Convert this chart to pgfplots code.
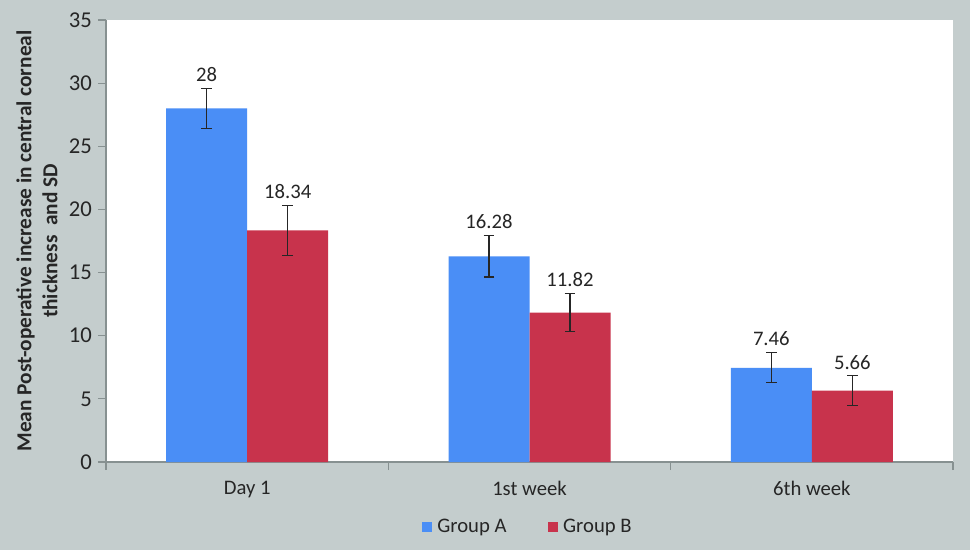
\documentclass[border=0pt]{standalone}
\usepackage{pgfplots}
\pgfplotsset{compat=1.18}
\usepackage{fontspec}
\setmainfont{Carlito}

\definecolor{bgGray}{RGB}{196,205,205}
\definecolor{barBlue}{RGB}{74,142,246}
\definecolor{barRed}{RGB}{200,51,76}
\definecolor{axGray}{RGB}{135,145,145}
\definecolor{txt}{RGB}{38,38,38}

\newcommand{\chartfont}{\fontsize{15.5}{18}\selectfont\color{txt}}

\begin{document}
\begin{tikzpicture}
% background of the whole picture (1px = 0.75pt)
\fill[bgGray] (0,0) rectangle (727.5pt,412.5pt);

\begin{axis}[
    at={(79.5pt,66pt)}, anchor=south west,
    scale only axis,
    width=635.25pt, height=331.5pt,
    axis background/.style={fill=white},
    axis x line*=bottom, axis y line*=left,
    axis line style={axGray, line width=0.8pt},
    every tick label/.append style={font=\chartfont},
    ymin=0, ymax=35, ytick={0,5,...,35},
    xmin=-0.5, xmax=2.5,
    xtick={0,1,2},
    xticklabels={Day 1, 1st week, 6th week},
    minor xtick={-0.5,0.5,1.5,2.5},
    tick align=outside,
    major x tick style={draw=none},
    tick style={axGray, line width=0.8pt},
    major tick length=6pt, minor tick length=6pt,
    xticklabel style={yshift=-5pt},
    yticklabel style={xshift=-1pt, font=\fontsize{17}{18}\selectfont\color{txt}},
    /pgf/number format/assume math mode=true,
    ylabel={Mean Post-operative increase in central corneal\\thickness\ \ and SD},
    ylabel style={at={(axis description cs:-0.0815,0.5)}, anchor=center,
        align=center, font=\fontsize{16}{19.5}\selectfont\bfseries\color{txt}},
    ybar=0pt, bar width=60.75pt,
    legend style={at={(axis description cs:0.5,-0.147)}, anchor=center,
        draw=none, fill=none, legend columns=2,
        /tikz/every even column/.append style={column sep=27pt},
        nodes={font=\chartfont, inner xsep=4pt}},
    legend image code/.code={\fill[#1] (0pt,-3.75pt) rectangle (7.5pt,3.75pt);},
    error bars/error bar style={line width=0.9pt, black!85},
    error bars/error mark options={rotate=90, line width=0.9pt, black!85, mark size=4pt},
    every node near coord/.append style={font=\chartfont},
]

% Group A
\addplot[fill=barBlue, draw=none, bar shift=-30.375pt,
    error bars/.cd, y dir=both, y explicit]
    coordinates {(0,28) +- (0,1.58) (1,16.28) +- (0,1.63) (2,7.46) +- (0,1.19)};
\addlegendentry{Group A}

% Group B
\addplot[fill=barRed, draw=none, bar shift=30.375pt,
    error bars/.cd, y dir=both, y explicit]
    coordinates {(0,18.34) +- (0,1.98) (1,11.82) +- (0,1.5) (2,5.66) +- (0,1.16)};
\addlegendentry{Group B}

% value labels above the error bars
\addplot[draw=none, fill=none, bar shift=-30.375pt, forget plot,
    nodes near coords, point meta=explicit symbolic,
    every node near coord/.append style={anchor=south, yshift=1.5pt}]
    coordinates {(0,29.58) [28] (1,17.91) [16.28] (2,8.65) [7.46]};
\addplot[draw=none, fill=none, bar shift=30.375pt, forget plot,
    nodes near coords, point meta=explicit symbolic,
    every node near coord/.append style={anchor=south, yshift=1.5pt}]
    coordinates {(0,20.32) [18.34] (1,13.32) [11.82] (2,6.82) [5.66]};
\end{axis}

\pgfresetboundingbox
\useasboundingbox (0,0) rectangle (727.5pt,412.5pt);
\end{tikzpicture}
\end{document}
